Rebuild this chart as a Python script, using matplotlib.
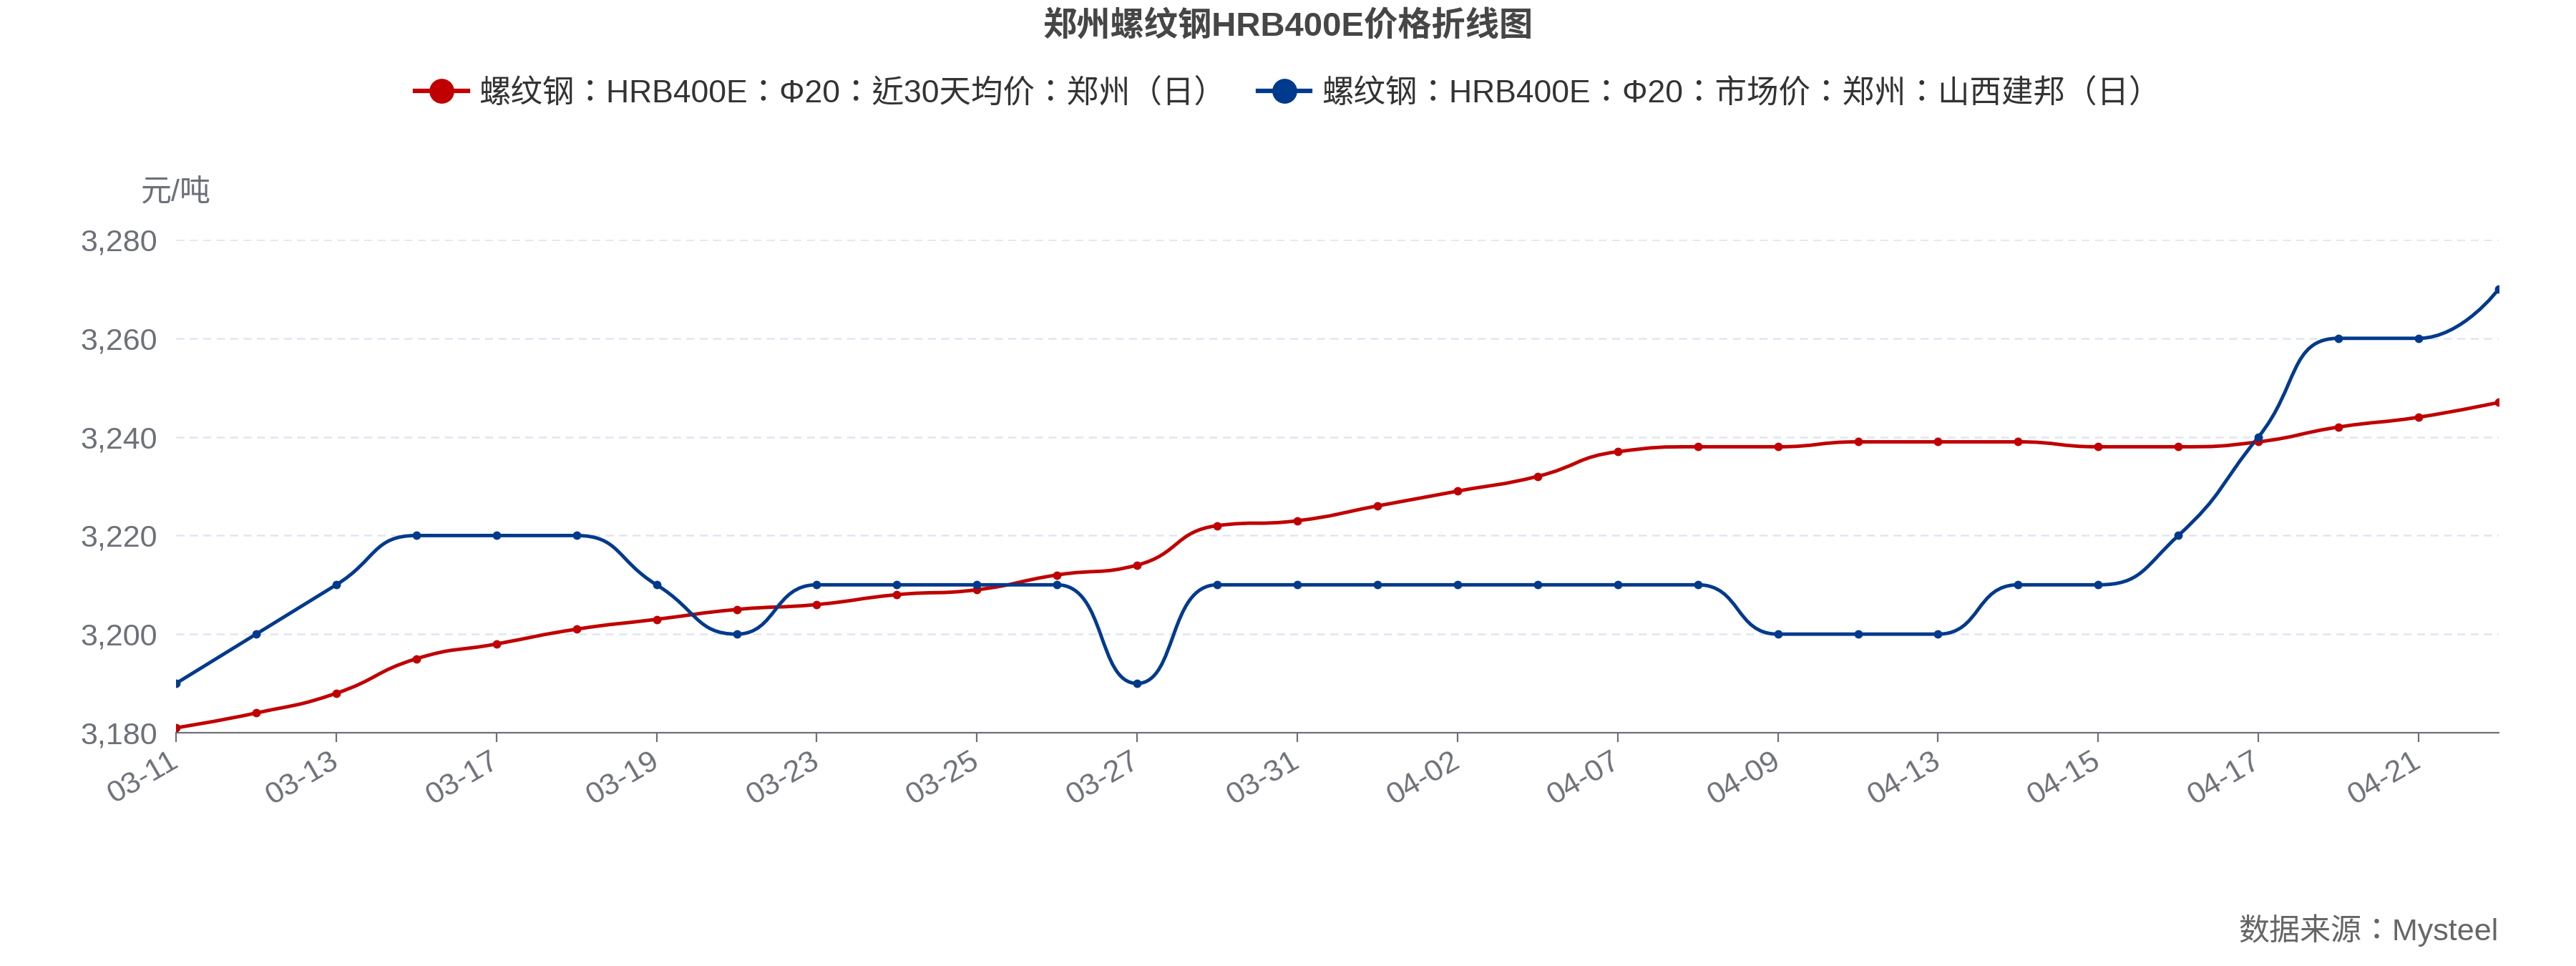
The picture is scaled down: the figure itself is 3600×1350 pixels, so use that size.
import numpy as np
import matplotlib
matplotlib.use("Agg")
import matplotlib.pyplot as plt
from matplotlib.path import Path
from matplotlib.patches import PathPatch
from matplotlib.lines import Line2D
from matplotlib.ticker import FuncFormatter

plt.rcParams['font.family'] = ['Liberation Sans', 'Noto Sans CJK SC', 'DejaVu Sans']
# centred full-width colons, like the reference
TC_FAMILY = ['Liberation Sans', 'Noto Sans CJK TC', 'DejaVu Sans']

# ===== DATA =====
dates = ["03-11", "03-12", "03-13", "03-16", "03-17", "03-18", "03-19", "03-20",
         "03-23", "03-24", "03-25", "03-26", "03-27", "03-30", "03-31", "04-01",
         "04-02", "04-03", "04-07", "04-08", "04-09", "04-10", "04-13", "04-14",
         "04-15", "04-16", "04-17", "04-20", "04-21", "04-22"]

avg30 = [3181, 3184, 3188, 3195, 3198, 3201, 3203, 3205, 3206, 3208,
         3209, 3212, 3214, 3222, 3223, 3226, 3229, 3232, 3237, 3238,
         3238, 3239, 3239, 3239, 3238, 3238, 3239, 3242, 3244, 3247]

market = [3190, 3200, 3210, 3220, 3220, 3220, 3210, 3200, 3210, 3210,
          3210, 3210, 3190, 3210, 3210, 3210, 3210, 3210, 3210, 3210,
          3200, 3200, 3200, 3210, 3210, 3220, 3240, 3260, 3260, 3270]

series_names = ["螺纹钢：HRB400E：Φ20：近30天均价：郑州（日）",
                "螺纹钢：HRB400E：Φ20：市场价：郑州：山西建邦（日）"]
series_colors = ["#C00000", "#003A8C"]

y_ticks = [3180, 3200, 3220, 3240, 3260, 3280]

AXIS_GRAY = "#6E7079"


def smooth_path(ax, xs, ys, smooth=0.5):
    # bezier smoothing done in pixel space, same idea as echarts line smooth
    pts = ax.transData.transform(np.column_stack([xs, ys]))
    n = len(pts)
    verts = [pts[0]]
    codes = [Path.MOVETO]
    cp0 = pts[0].copy()
    for i in range(1, n):
        x, y = pts[i]
        px, py = pts[i - 1]
        if i == n - 1:
            cp1 = np.array([x, y])
            ncp0 = None
        else:
            nx, ny = pts[i + 1]
            vx, vy = nx - px, ny - py
            len_prev = np.hypot(x - px, y - py)
            len_next = np.hypot(nx - x, ny - y)
            ratio = len_next / (len_next + len_prev)
            ncx = x + vx * smooth * ratio
            ncy = y + vy * smooth * ratio
            ncx = min(ncx, max(nx, x)); ncy = min(ncy, max(ny, y))
            ncx = max(ncx, min(nx, x)); ncy = max(ncy, min(ny, y))
            vx, vy = ncx - x, ncy - y
            c1x = x - vx * len_prev / len_next
            c1y = y - vy * len_prev / len_next
            c1x = min(c1x, max(px, x)); c1y = min(c1y, max(py, y))
            c1x = max(c1x, min(px, x)); c1y = max(c1y, min(py, y))
            vx, vy = x - c1x, y - c1y
            ncp0 = np.array([x + vx * len_next / len_prev, y + vy * len_next / len_prev])
            cp1 = np.array([c1x, c1y])
        verts += [cp0, cp1, np.array([x, y])]
        codes += [Path.CURVE4] * 3
        cp0 = ncp0
    verts = ax.transData.inverted().transform(np.array(verts))
    return Path(verts, codes)


fig = plt.figure(figsize=(36, 13.5), dpi=100)
ax = fig.add_axes([246 / 3600, 1 - 1024 / 1350, (3492 - 246) / 3600, (1024 - 335) / 1350])

x = np.arange(len(dates))
ax.set_xlim(0, len(dates) - 1)
ax.set_ylim(y_ticks[0], y_ticks[-1])

for vals, color in zip([avg30, market], series_colors):
    path = smooth_path(ax, x, vals)
    ax.add_patch(PathPatch(path, fill=False, edgecolor=color, linewidth=3.5,
                           capstyle='round', joinstyle='round', zorder=3))
    ax.plot(x, vals, linestyle='none', marker='o', markersize=7.5,
            color=color, zorder=4)

# grid
for yv in y_ticks[1:]:
    ax.axhline(yv, color="#E0E6F1", linewidth=1.8, dashes=(4.5, 3), zorder=1)

ax.set_yticks(y_ticks)
ax.yaxis.set_major_formatter(FuncFormatter(lambda v, p: f"{int(v):,}"))
ax.tick_params(axis='y', length=0, pad=19, labelsize=31, labelcolor=AXIS_GRAY)

ax.set_xticks(x[::2])
ax.set_xticklabels(dates[::2], rotation=30, ha='right', va='center',
                   rotation_mode='anchor')
ax.tick_params(axis='x', length=9, width=1.6, color=AXIS_GRAY, pad=17,
               labelsize=31, labelcolor=AXIS_GRAY)

for s in ['top', 'right', 'left']:
    ax.spines[s].set_visible(False)
ax.spines['bottom'].set_color(AXIS_GRAY)
ax.spines['bottom'].set_linewidth(1.6)
ax.spines['bottom'].set_zorder(2)

# y axis name
ax.text(0, 1 + (335 - 270) / (1024 - 335), "元/吨", transform=ax.transAxes,
        ha='center', va='center', fontsize=31, color=AXIS_GRAY)

# title
fig.text(0.5, 1 - 38 / 1350, "郑州螺纹钢HRB400E价格折线图", ha='center', va='center',
         fontsize=34, fontweight='bold', color='#464646')

# legend
handles = [Line2D([0], [0], color=c, linewidth=4.5, marker='o', markersize=24)
           for c in series_colors]
fig.legend(handles, series_names, loc='center', bbox_to_anchor=(0.5, 1 - 130 / 1350),
           ncol=2, frameon=False, handlelength=1.65,
           handletextpad=0.36, columnspacing=1.0, labelcolor='#333333',
           prop={'family': TC_FAMILY, 'size': 32})

# source
fig.text(3492 / 3600, 1 - 1300 / 1350, "数据来源：Mysteel", ha='right', va='center',
         fontsize=31, color='#666666', family=TC_FAMILY)

fig.savefig("out.png", dpi=100)
